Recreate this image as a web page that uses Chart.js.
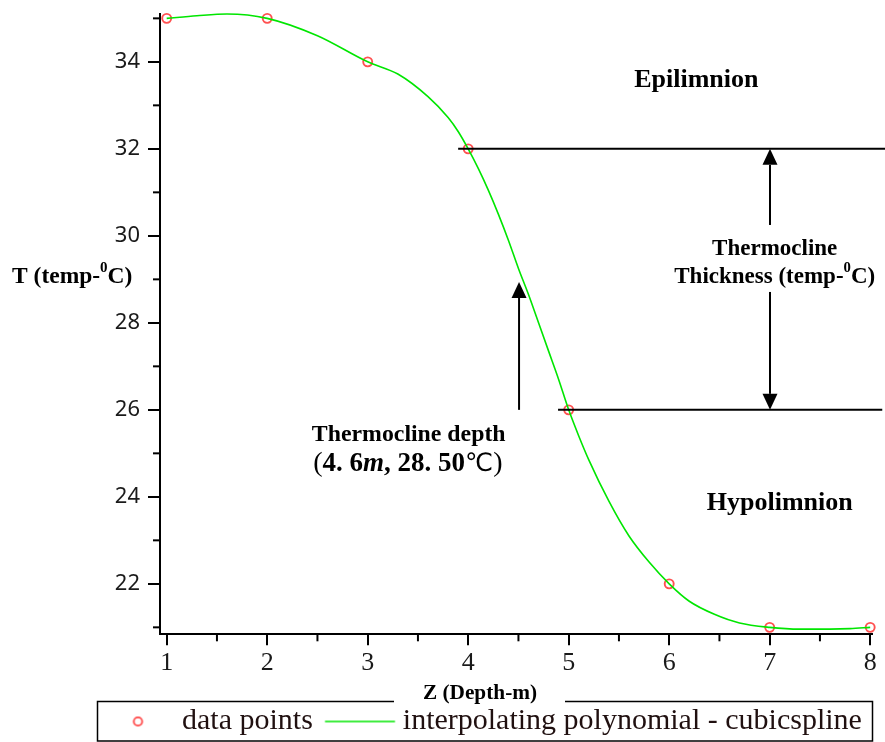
<!DOCTYPE html>
<html><head><meta charset="utf-8">
<script src="https://cdn.jsdelivr.net/npm/chart.js@4.4.1/dist/chart.umd.min.js"></script>
<style>html,body{margin:0;padding:0;background:#fff}#wrap{width:885px;height:742px;position:relative}</style>
</head><body><div id="wrap"><canvas id="c"></canvas></div>
<script>
// ---- data ----
const depthPoints = [1, 2, 3, 4, 5, 6, 7, 8];
const tempPoints  = [35, 35, 34, 32, 26, 22, 21, 21];
// spline curve
const curveDepth = [1.0,1.3,1.6,2.0,2.5,3.0,3.3,3.6,3.8,3.9,4.0,4.1,4.2,4.3,4.4,4.5,4.6,4.7,4.8,4.9,5.0,5.1,5.2,5.4,5.6,5.8,6.0,6.2,6.45,6.7,7.0,7.3,7.6,7.8,8.0];
const curveTemp  = [35.0,35.06,35.1,35.0,34.6,34.0,33.72,33.2,32.72,32.4,32.0,31.55,31.05,30.5,29.9,29.25,28.65,28.0,27.35,26.7,26.0,25.4,24.85,23.9,23.1,22.5,22.0,21.6,21.3,21.1,21.0,20.96,20.96,20.97,21.0];
const xTicks = [1, 2, 3, 4, 5, 6, 7, 8];
const yTicks = [22, 24, 26, 28, 30, 32, 34];
const xMinor = [1.5, 2.5, 3.5, 4.5, 5.5, 6.5, 7.5];
const yMinor = [21, 23, 25, 27, 29, 31, 33, 35];
const seriesLabels = ['data points', 'interpolating polynomial - cubicspline'];

// ---- annotations (data units) ----
const hLines = [{y: 32, x0: 3.9, x1: 8.15}, {y: 26, x0: 4.894, x1: 8.12}];
const arrows = [{x: 7.003, from: 30.25, to: 32}, {x: 7.003, from: 28.71, to: 26}, {x: 4.506, from: 26, to: 28.94}];

const SERIF = '"Liberation Serif","Times New Roman",serif';
const f = (size, weight, style) => `${style || ''} ${weight || ''} ${size}px ${SERIF}`.trim();

function icon(w, h, draw) {
  const c = document.createElement('canvas'); c.width = w; c.height = h;
  draw(c.getContext('2d')); return c;
}
const icons = [
  icon(80, 20, g => { g.strokeStyle = 'rgba(255,50,50,0.9)'; g.lineWidth = 1.8; g.beginPath(); g.arc(47.5, 10, 4.2, 0, Math.PI * 2); g.stroke(); }),
  icon(100, 10, g => { g.strokeStyle = '#00e600'; g.lineWidth = 1.6; g.beginPath(); g.moveTo(50 + 8.7 - 35, 5); g.lineTo(50 + 8.7 + 35, 5); g.stroke(); })
];

function rich(ctx, parts, x, base, align) {
  let total = 0;
  parts.forEach(p => { ctx.font = p.font; p.w = ctx.measureText(p.t).width; total += p.w; });
  let cx = align === 'center' ? x - total / 2 : x;
  ctx.textAlign = 'left'; ctx.textBaseline = 'alphabetic';
  parts.forEach(p => { ctx.font = p.font; ctx.fillText(p.t, cx, base - (p.rise || 0)); cx += p.w; });
}
function supParts(a, b, size) {
  return [{t: a, font: f(size, 'bold')}, {t: '0', font: f(size * 0.64, 'bold'), rise: size * 0.47}, {t: b, font: f(size, 'bold')}];
}

const annot = {
  id: 'annot',
  afterDraw(chart) {
    const {ctx, chartArea: ca} = chart;
    const X = v => chart.scales.x.getPixelForValue(v), Y = v => chart.scales.y.getPixelForValue(v);
    ctx.save();
    ctx.strokeStyle = '#000'; ctx.fillStyle = '#000'; ctx.lineWidth = 2;
    // minor ticks
    xMinor.forEach(v => { ctx.beginPath(); ctx.moveTo(X(v), ca.bottom); ctx.lineTo(X(v), ca.bottom + 7); ctx.stroke(); });
    yMinor.forEach(v => { ctx.beginPath(); ctx.moveTo(ca.left - 7, Y(v)); ctx.lineTo(ca.left, Y(v)); ctx.stroke(); });
    // horizontal boundary lines
    hLines.forEach(l => { ctx.beginPath(); ctx.moveTo(X(l.x0), Y(l.y)); ctx.lineTo(X(l.x1), Y(l.y)); ctx.stroke(); });
    // arrows
    arrows.forEach(a => {
      const x = X(a.x), y0 = Y(a.from), y1 = Y(a.to), d = Math.sign(y1 - y0), hl = 16, hw = 7.5;
      ctx.beginPath(); ctx.moveTo(x, y0); ctx.lineTo(x, y1 - d * hl); ctx.stroke();
      ctx.beginPath(); ctx.moveTo(x, y1); ctx.lineTo(x - hw, y1 - d * hl); ctx.lineTo(x + hw, y1 - d * hl); ctx.closePath(); ctx.fill();
    });
    // region labels
    rich(ctx, [{t: 'Epilimnion', font: f(26, 'bold')}], X(6.27), Y(33.43), 'center');
    rich(ctx, [{t: 'Hypolimnion', font: f(26, 'bold')}], X(7.10), Y(23.70), 'center');
    rich(ctx, [{t: 'Thermocline', font: f(23, 'bold')}], X(7.05), Y(29.556), 'center');
    rich(ctx, supParts('Thickness (temp-', 'C)', 23), X(7.05), Y(28.91), 'center');
    rich(ctx, [{t: 'Thermocline depth', font: f(23.8, 'bold')}], X(3.408), Y(25.28), 'center');
    rich(ctx, [
      {t: '(', font: f(28)}, {t: '4. 6', font: f(27, 'bold')}, {t: 'm', font: f(27, 'bold', 'italic')},
      {t: ', 28. 50', font: f(27, 'bold')}, {t: '\u2103', font: '25px "DejaVu Sans"'}, {t: ')', font: f(28)}
    ], X(3.40), Y(24.59), 'center');
    // axis titles
    rich(ctx, supParts('T (temp-', 'C)', 23.5), 12, 283, 'left');
    // legend frame
    ctx.lineWidth = 1.5;
    ctx.strokeRect(97.5, 701.5, 775, 39.5);
    ctx.fillStyle = '#fff'; ctx.fillRect(394, 678, 171, 25);
    ctx.fillStyle = '#000';
    rich(ctx, [{t: 'Z (Depth-m)', font: f(21.3, 'bold')}], 480, 699, 'center');
    ctx.restore();
  }
};

new Chart(document.getElementById('c'), {
  data: {
    datasets: [
      {type: 'scatter', label: seriesLabels[0], data: depthPoints.map((d, i) => ({x: d, y: tempPoints[i]})),
       pointStyle: 'circle', pointRadius: 4.5, pointBorderWidth: 1.9, pointBorderColor: 'rgba(255,50,50,0.85)',
       pointBackgroundColor: 'rgba(0,0,0,0)', showLine: false, clip: false, order: 1},
      {type: 'line', label: seriesLabels[1], data: curveDepth.map((d, i) => ({x: d, y: curveTemp[i]})),
       borderColor: '#00e600', borderWidth: 1.6, pointRadius: 0, cubicInterpolationMode: 'monotone', fill: false, clip: false, order: 0}
    ]
  },
  options: {
    responsive: true, maintainAspectRatio: false, animation: false, devicePixelRatio: 1,
    layout: {padding: {left: 92, right: 13, top: 14, bottom: 0}},
    scales: {
      x: {type: 'linear', min: 0.9333, max: 8.018,
        afterBuildTicks: s => { s.ticks = xTicks.map(v => ({value: v})); },
        afterFit: s => { s.height = 70.2; s.paddingLeft = 0; s.paddingRight = 0; },
        grid: {display: true, drawOnChartArea: false, drawTicks: true, tickLength: 11, color: '#000', lineWidth: 2},
        border: {display: true, color: '#000', width: 2},
        ticks: {padding: 2.3, color: '#1a1a1a', font: {family: SERIF, size: 26}, callback: v => String(v), maxRotation: 0, autoSkip: false}
      },
      y: {type: 'linear', min: 20.84, max: 35.1,
        afterBuildTicks: s => { s.ticks = yTicks.map(v => ({value: v})); },
        afterFit: s => { s.width = 68; s.paddingTop = 0; s.paddingBottom = 0; },
        grid: {display: true, drawOnChartArea: false, drawTicks: true, tickLength: 12, color: '#000', lineWidth: 2},
        border: {display: true, color: '#000', width: 2},
        ticks: {padding: 8, color: '#1a1a1a', font: {family: '"Noto Sans"', size: 22}, callback: v => String(v), autoSkip: false}
      }
    },
    plugins: {
      tooltip: {enabled: false},
      legend: {
        position: 'bottom', align: 'start', maxHeight: 37.5,
        labels: {
          usePointStyle: true, pointStyleWidth: 73, padding: 2,
          font: {family: SERIF, size: 30}, color: '#201010',
          generateLabels: chart => chart.data.datasets.map((ds, i) => ({
            text: ds.label, pointStyle: icons[i], datasetIndex: i, hidden: false,
            fontColor: '#201010', lineWidth: 0, strokeStyle: 'rgba(0,0,0,0)', fillStyle: 'rgba(0,0,0,0)'
          }))
        }
      }
    }
  },
  plugins: [annot]
});
</script></body></html>
